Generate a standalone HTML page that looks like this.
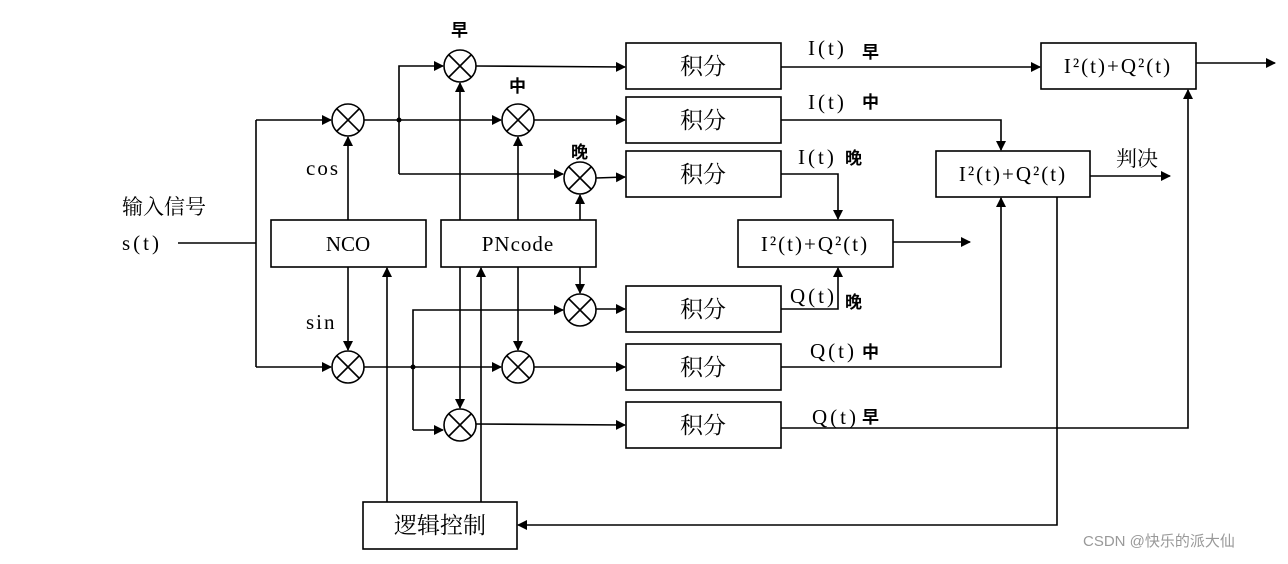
<!DOCTYPE html>
<html><head><meta charset="utf-8"><style>
body{margin:0;background:#fff;}
svg text{font-family:"Liberation Serif","Noto Serif CJK SC",serif;fill:#000;}
</style></head><body>
<svg width="1288" height="559" viewBox="0 0 1288 559" xmlns="http://www.w3.org/2000/svg">
<defs><marker id="a" markerWidth="10" markerHeight="10" refX="9" refY="5" orient="auto" markerUnits="userSpaceOnUse"><path d="M0,0 L10,5 L0,10 z" fill="#000"/></marker>
<g id="m"><circle r="16" fill="#fff" stroke="#000" stroke-width="1.6"/><path d="M-11,-11 L11,11 M11,-11 L-11,11" stroke="#000" stroke-width="1.6" fill="none"/></g>
</defs>
<g stroke="#000" stroke-width="1.6" fill="none">
<path d="M178,243 H256"/>
<path d="M256,120 V367"/>
<path d="M256,120 H331" marker-end="url(#a)"/>
<path d="M256,367 H331" marker-end="url(#a)"/>
<path d="M364,120 H501" marker-end="url(#a)"/>
<path d="M399,174 V66 H443" marker-end="url(#a)"/>
<path d="M399,174 H563" marker-end="url(#a)"/>
<path d="M364,367 H501" marker-end="url(#a)"/>
<path d="M413,430 V310 H563" marker-end="url(#a)"/>
<path d="M413,430 H443" marker-end="url(#a)"/>
<rect x="271" y="220" width="155" height="47"/>
<path d="M348,220 V137" marker-end="url(#a)"/>
<path d="M348,267 V350" marker-end="url(#a)"/>
<rect x="441" y="220" width="155" height="47"/>
<path d="M460,220 V83" marker-end="url(#a)"/>
<path d="M460,267 V408" marker-end="url(#a)"/>
<path d="M518,220 V137" marker-end="url(#a)"/>
<path d="M518,267 V350" marker-end="url(#a)"/>
<path d="M580,220 V195" marker-end="url(#a)"/>
<path d="M580,267 V293" marker-end="url(#a)"/>
<rect x="363" y="502" width="154" height="47"/>
<path d="M387,502 V268" marker-end="url(#a)"/>
<path d="M481,502 V268" marker-end="url(#a)"/>
<path d="M476,66 L625,67" marker-end="url(#a)"/>
<path d="M534,120 H625" marker-end="url(#a)"/>
<path d="M596,178 L625,177" marker-end="url(#a)"/>
<path d="M596,309 H625" marker-end="url(#a)"/>
<path d="M534,367 H625" marker-end="url(#a)"/>
<path d="M476,424 L625,425" marker-end="url(#a)"/>
<rect x="626" y="43" width="155" height="46"/>
<rect x="626" y="97" width="155" height="46"/>
<rect x="626" y="151" width="155" height="46"/>
<rect x="626" y="286" width="155" height="46"/>
<rect x="626" y="344" width="155" height="46"/>
<rect x="626" y="402" width="155" height="46"/>
<rect x="1041" y="43" width="155" height="46"/>
<rect x="936" y="151" width="154" height="46"/>
<rect x="738" y="220" width="155" height="47"/>
<path d="M781,67 H1040" marker-end="url(#a)"/>
<path d="M1196,63 H1275" marker-end="url(#a)"/>
<path d="M781,120 H1001 V150" marker-end="url(#a)"/>
<path d="M1090,176 H1170" marker-end="url(#a)"/>
<path d="M781,174 H838 V219" marker-end="url(#a)"/>
<path d="M781,309 H838 V268" marker-end="url(#a)"/>
<path d="M893,242 H970" marker-end="url(#a)"/>
<path d="M781,367 H1001 V198" marker-end="url(#a)"/>
<path d="M781,428 H1188 V90" marker-end="url(#a)"/>
<path d="M1057,197 V525 H518" marker-end="url(#a)"/>
</g>
<circle cx="399" cy="120" r="2.5"/><circle cx="413" cy="367" r="2.5"/>
<use href="#m" x="348" y="120"/><use href="#m" x="460" y="66"/><use href="#m" x="518" y="120"/><use href="#m" x="580" y="178"/>
<use href="#m" x="348" y="367"/><use href="#m" x="580" y="310"/><use href="#m" x="518" y="367"/><use href="#m" x="460" y="425"/>
<g font-size="21">
<text x="122" y="214">输入信号</text>
<text x="122" y="250" letter-spacing="3">s(t)</text>
<text x="306" y="175" letter-spacing="2">cos</text>
<text x="306" y="329" letter-spacing="2">sin</text>
<text x="348" y="251" text-anchor="middle">NCO</text>
<text x="518" y="251" text-anchor="middle" letter-spacing="1">PNcode</text>
<text x="440" y="533" font-size="23" text-anchor="middle">逻辑控制</text>
<text x="703" y="74" text-anchor="middle" font-size="23">积分</text>
<text x="703" y="128" text-anchor="middle" font-size="23">积分</text>
<text x="703" y="182" text-anchor="middle" font-size="23">积分</text>
<text x="703" y="317" text-anchor="middle" font-size="23">积分</text>
<text x="703" y="375" text-anchor="middle" font-size="23">积分</text>
<text x="703" y="433" text-anchor="middle" font-size="23">积分</text>
<text x="1118" y="73" text-anchor="middle" letter-spacing="2">I²(t)+Q²(t)</text>
<text x="1013" y="181" text-anchor="middle" letter-spacing="2">I²(t)+Q²(t)</text>
<text x="815" y="251" text-anchor="middle" letter-spacing="2">I²(t)+Q²(t)</text>
<text x="1116" y="166">判决</text>
<text x="808" y="55" letter-spacing="3">I(t)</text>
<text x="808" y="109" letter-spacing="3">I(t)</text>
<text x="798" y="164" letter-spacing="3">I(t)</text>
<text x="790" y="303" letter-spacing="3">Q(t)</text>
<text x="810" y="358" letter-spacing="3">Q(t)</text>
<text x="812" y="424" letter-spacing="3">Q(t)</text>
</g>
<g font-size="17" font-weight="bold">
<text x="451" y="36" style="font-family:'Noto Sans CJK SC',sans-serif">早</text>
<text x="509" y="92" style="font-family:'Noto Sans CJK SC',sans-serif">中</text>
<text x="571" y="158" style="font-family:'Noto Sans CJK SC',sans-serif">晚</text>
<text x="862" y="58" style="font-family:'Noto Sans CJK SC',sans-serif">早</text>
<text x="862" y="108" style="font-family:'Noto Sans CJK SC',sans-serif">中</text>
<text x="845" y="164" style="font-family:'Noto Sans CJK SC',sans-serif">晚</text>
<text x="845" y="308" style="font-family:'Noto Sans CJK SC',sans-serif">晚</text>
<text x="862" y="358" style="font-family:'Noto Sans CJK SC',sans-serif">中</text>
<text x="862" y="423" style="font-family:'Noto Sans CJK SC',sans-serif">早</text>
</g>
<text x="1083" y="546" font-size="15" style="font-family:'Liberation Sans','Noto Sans CJK SC',sans-serif;fill:#999">CSDN @快乐的派大仙</text>
</svg>
</body></html>
